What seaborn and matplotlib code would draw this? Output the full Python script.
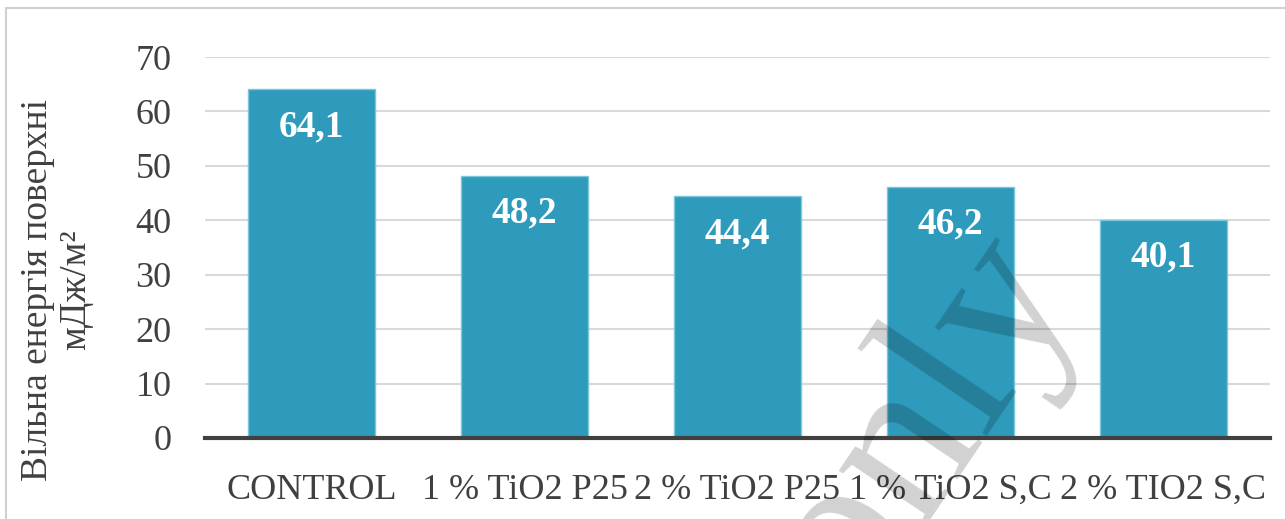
import matplotlib
matplotlib.use("Agg")
import matplotlib.pyplot as plt
import seaborn as sns
import pandas as pd
from matplotlib.patches import Rectangle

categories = ["CONTROL", "1 % TiO2 P25", "2 % TiO2 P25", "1 % TiO2 S,C", "2 % TIO2 S,C"]
values = [64.1, 48.2, 44.4, 46.2, 40.1]
yticks = [0, 10, 20, 30, 40, 50, 60, 70]
ylabel = "Вільна енергія поверхні\nмДж/м²"
watermark = "only"

sns.set_theme(style="white")
plt.rcParams['font.family'] = ['Liberation Serif', 'DejaVu Serif']

df = pd.DataFrame({"cat": categories, "val": values})

fig = plt.figure(figsize=(12.85, 5.19), dpi=100)
ax = fig.add_axes([205/1285, 1-438/519, 1065/1285, (438-57)/519])

sns.barplot(data=df, x="cat", y="val", color="#2E9BBC", saturation=1, width=0.6,
            edgecolor="#7CC6DB", linewidth=1, ax=ax, zorder=2)

ax.set_ylim(0, 70)
ax.set_yticks(yticks)
ax.set_xlim(-0.5, len(categories) - 0.5)
ax.yaxis.grid(True, color="#D9D9D9", linewidth=1.5, zorder=0)
ax.set_axisbelow(True)
for s in ["top", "right", "left"]:
    ax.spines[s].set_visible(False)
ax.spines["bottom"].set_color("#404040")
ax.spines["bottom"].set_linewidth(3)
ax.spines["bottom"].set_zorder(3)
ax.set_xlabel("")
ax.set_ylabel("")
ax.tick_params(axis="both", length=0, labelsize=26, labelcolor="#404040")
ax.tick_params(axis="x", pad=26)
ax.tick_params(axis="y", pad=24)

for i, v in enumerate(values):
    ax.annotate(f"{v:.1f}".replace(".", ","), xy=(i, v), xytext=(0, -27),
                textcoords="offset points", ha="center", va="center",
                fontsize=27, fontweight="bold", color="white", zorder=4)

fig.text(57/1285, 1-290/519, ylabel, rotation=90, ha="center", va="center",
         multialignment="center", fontsize=27, color="#404040", linespacing=1.12)

# outer frame
fig.patches.append(Rectangle((6/1285, -0.1), 1.1, 1-8/519+0.1, transform=fig.transFigure,
                             fill=False, edgecolor="#D0D0D0", linewidth=1.5, zorder=0))

# watermark
fig.text(922/1285, 1-422/519, watermark, rotation=56, ha="center", va="center",
         fontsize=162, color="black", alpha=0.18, zorder=10)

fig.savefig("out.png", dpi=100)
